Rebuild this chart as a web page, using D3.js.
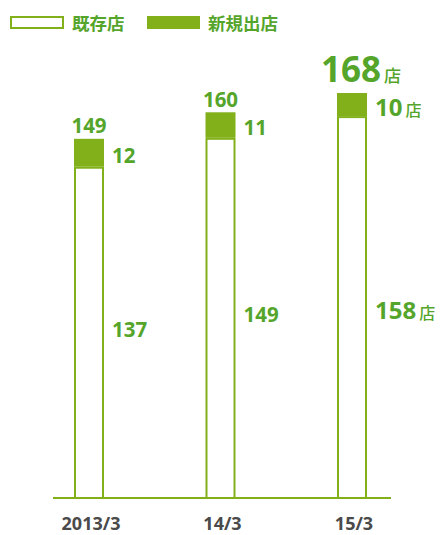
<!DOCTYPE html>
<html>
<head>
<meta charset="utf-8">
<script src="https://cdn.jsdelivr.net/npm/d3@7"></script>
<style>
  html, body { margin: 0; padding: 0; background: #fff; }
  svg { display: block; }
  text { font-family: "Open Sans", "Noto Sans CJK JP", sans-serif; font-weight: 700; }
  .cjk { font-family: "Noto Sans CJK JP", sans-serif; }
</style>
</head>
<body>
<script>
// Store counts per fiscal year end
const categories = ["2013/3", "14/3", "15/3"];
const existingStores = [137, 149, 158];
const newStores = [12, 11, 10];
const totalStores = [149, 160, 168];
const legendLabels = ["既存店", "新規出店"];
const unit = "店";

const W = 443, H = 535;
const barGreen = "#82b01a";
const textGreen = "#55a52b";
const axisGray = "#4a4a4a";

const svg = d3.select("body").append("svg").attr("width", W).attr("height", H);

const x = d3.scalePoint().domain(categories).range([89, 352]);
const y = d3.scaleLinear().domain([0, 168]).range([498, 93]);
const barW = 28;

// Legend
const legend = svg.append("g");
legend.append("rect").attr("x", 11).attr("y", 17).attr("width", 52).attr("height", 11)
  .attr("fill", "#fff").attr("stroke", barGreen).attr("stroke-width", 2);
legend.append("text").attr("class", "cjk").attr("x", 72).attr("y", 29.5)
  .attr("font-size", 17.5).attr("fill", textGreen).text(legendLabels[0]);
legend.append("rect").attr("x", 147).attr("y", 16).attr("width", 53).attr("height", 13)
  .attr("fill", barGreen);
legend.append("text").attr("class", "cjk").attr("x", 208).attr("y", 29.5)
  .attr("font-size", 17.5).attr("fill", textGreen).text(legendLabels[1]);

// Bars: existing stores (outlined) with new stores stacked on top (filled)
const rows = categories.map((c, i) => ({
  cat: c, existing: existingStores[i], added: newStores[i], total: totalStores[i], last: i === categories.length - 1
}));

const g = svg.append("g");
g.selectAll("rect.existing").data(rows).join("rect")
  .attr("class", "existing")
  .attr("x", d => x(d.cat) - barW / 2)
  .attr("y", d => y(d.existing))
  .attr("width", barW)
  .attr("height", d => y(0) - y(d.existing))
  .attr("fill", "#fff").attr("stroke", barGreen).attr("stroke-width", 2);

g.selectAll("rect.added").data(rows).join("rect")
  .attr("class", "added")
  .attr("x", d => x(d.cat) - barW / 2 - 1)
  .attr("y", d => y(d.total))
  .attr("width", barW + 2)
  .attr("height", d => y(d.existing) - y(d.total) - 1)
  .attr("fill", barGreen);

// Baseline
svg.append("line").attr("x1", 53).attr("x2", 391).attr("y1", y(0)).attr("y2", y(0))
  .attr("stroke", barGreen).attr("stroke-width", 2);

// Category labels
svg.selectAll("text.cat").data(categories).join("text")
  .attr("class", "cat")
  .attr("x", d => x(d) + 2).attr("y", 530)
  .attr("text-anchor", "middle").attr("font-size", 18).attr("fill", axisGray)
  .text(d => d);

// Value labels
function valueLabel(sel, big, small, withUnit) {
  sel.append("tspan").attr("font-size", big).text(d => d.v);
  if (withUnit) {
    sel.append("tspan").attr("class", "cjk").attr("font-size", small).attr("font-weight", 500)
      .attr("dx", 3).text(unit);
  }
}

// Totals above bars
rows.forEach(d => {
  const t = svg.append("text").datum({ v: d.total })
    .attr("fill", textGreen);
  if (d.last) {
    t.attr("x", 321).attr("y", y(d.total) - 11.5);
    valueLabel(t, 35, 17, true);
  } else {
    t.attr("x", x(d.cat)).attr("y", y(d.total) - 5.5).attr("text-anchor", "middle");
    valueLabel(t, 20.5, 0, false);
  }
});

// New-store counts beside top segments
rows.forEach(d => {
  const mid = (y(d.total) + y(d.existing)) / 2;
  const t = svg.append("text").datum({ v: d.added }).attr("fill", textGreen)
    .attr("x", x(d.cat) + 23);
  if (d.last) {
    t.attr("y", mid + 10.5);
    valueLabel(t, 24, 16, true);
  } else {
    t.attr("y", mid + 9.5);
    valueLabel(t, 20.5, 0, false);
  }
});

// Existing-store counts beside bottom segments
rows.forEach(d => {
  const mid = (y(0) + y(d.existing)) / 2;
  const t = svg.append("text").datum({ v: d.existing }).attr("fill", textGreen)
    .attr("x", x(d.cat) + 23);
  if (d.last) {
    t.attr("y", mid + 11);
    valueLabel(t, 24, 16, true);
  } else {
    t.attr("y", mid + 4);
    valueLabel(t, 20.5, 0, false);
  }
});
</script>
</body>
</html>
